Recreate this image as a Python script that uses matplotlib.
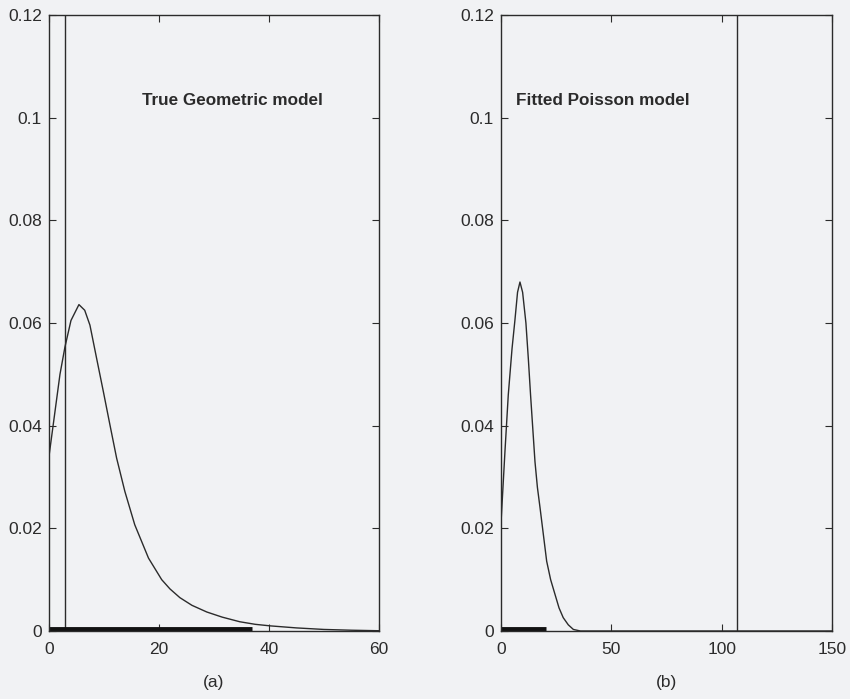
import numpy as np
import matplotlib
matplotlib.use("Agg")
import matplotlib.pyplot as plt

plt.rcParams['font.family'] = ['Liberation Sans', 'DejaVu Sans']

# (a) true geometric model - density
geo_x = [0, 1, 2, 2.9, 4, 5.45, 6.5, 7.45, 8.67, 9.9, 11.1, 12.3, 13.8, 15.6,
         18.1, 20.5, 22, 23.8, 26, 28.7, 31.5, 34.7, 37.5, 40.2, 45, 50, 55, 60]
geo_y = [0.034, 0.042, 0.050, 0.0553, 0.0605, 0.0636, 0.0625, 0.0596, 0.0531,
         0.0466, 0.0401, 0.0337, 0.0272, 0.0207, 0.0142, 0.0100, 0.0082,
         0.0065, 0.0050, 0.0037, 0.0027, 0.0018, 0.0013, 0.0010, 0.0006,
         0.0003, 0.00015, 0.00005]
geo_vline = 3
geo_rug = [0, 37]

# (b) fitted poisson model
poi_x = [0, 0.9, 1.8, 3.3, 5, 6.3, 7.5, 8.6, 9.8, 11.3, 12.4, 13.4, 14.4, 15.4,
         16.5, 17.7, 20.7, 22.5, 24.5, 26.3, 28.2, 30.5, 32.8, 36, 150]
poi_y = [0.021, 0.028, 0.035, 0.046, 0.055, 0.0605, 0.066, 0.068, 0.066, 0.060,
         0.053, 0.046, 0.0395, 0.033, 0.028, 0.024, 0.0136, 0.0100, 0.0071,
         0.0045, 0.0026, 0.0012, 0.0003, 0.0, 0.0]
poi_vline = 107
poi_rug = [0, 20.4]

bg = '#f1f2f4'
ink = '#2b2b2b'

fig = plt.figure(figsize=(8.5, 6.99), dpi=100, facecolor=bg)
ax1 = fig.add_axes([0.0576, 0.0973, 0.3882, 0.881])
ax2 = fig.add_axes([0.5894, 0.0973, 0.3894, 0.881])

panels = [
    (ax1, geo_x, geo_y, geo_vline, geo_rug, 60, [0, 20, 40, 60],
     'True Geometric model', 17, '(a)'),
    (ax2, poi_x, poi_y, poi_vline, poi_rug, 150, [0, 50, 100, 150],
     'Fitted Poisson model', 6.8, '(b)'),
]

for ax, xs, ys, vl, rug, xmax, xt, title, tx, lab in panels:
    ax.set_facecolor(bg)
    ax.plot(xs, ys, color=ink, lw=1.0)
    ax.axvline(vl, color=ink, lw=1.0)
    ax.plot(rug, [0.0003, 0.0003], color='#111111', lw=3.5, solid_capstyle='butt')
    ax.set_xlim(0, xmax)
    ax.set_ylim(0, 0.12)
    ax.set_xticks(xt)
    ax.set_xticklabels([str(v) for v in xt])
    ax.set_yticks([0, 0.02, 0.04, 0.06, 0.08, 0.1, 0.12])
    ax.set_yticklabels(['0', '0.02', '0.04', '0.06', '0.08', '0.1', '0.12'])
    ax.tick_params(direction='in', top=True, right=True, length=5,
                   labelsize=12.5, colors=ink, pad=5)
    ax.tick_params(axis='x', pad=8)
    for s in ax.spines.values():
        s.set_color(ink)
        s.set_linewidth(1.0)
    ax.text(tx, 0.1033, title, fontsize=12.3, fontweight='bold',
            color=ink, va='center', ha='left')
    ax.set_xlabel(lab, fontsize=12.5, color=ink, labelpad=13)

fig.savefig('out.png', dpi=100, facecolor=bg)
